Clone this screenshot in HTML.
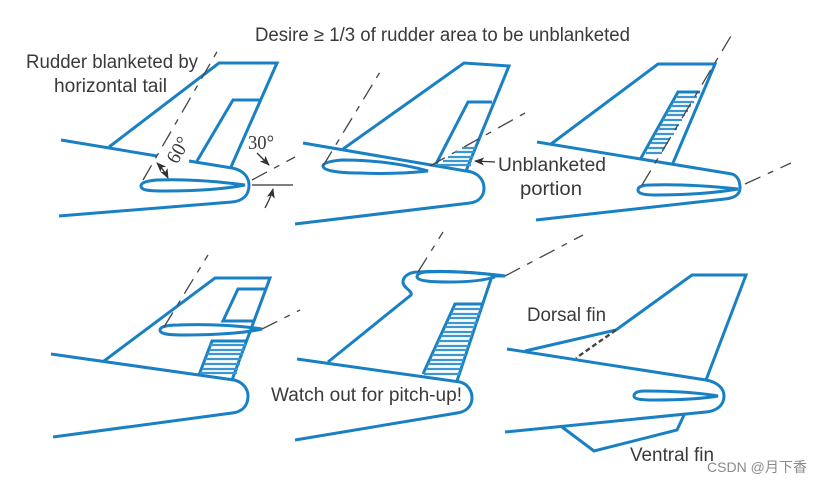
<!DOCTYPE html>
<html><head><meta charset="utf-8"><style>
html,body{margin:0;padding:0;background:#fff}
svg{display:block}
.b{fill:none;stroke:#1a80c4;stroke-width:3;stroke-linejoin:miter;stroke-linecap:butt}
.h{fill:none;stroke:#3c96d0;stroke-width:2.2}
.d{fill:none;stroke:#444;stroke-width:1.3;stroke-dasharray:17 8 6 8}
.k{fill:none;stroke:#333;stroke-width:1.3}
text{font-family:"Liberation Sans",sans-serif;font-size:19px;fill:#3a3a3a}
.s{font-family:"Liberation Serif",serif;font-size:20px}
</style></head><body>
<svg width="823" height="482" viewBox="0 0 823 482" xmlns="http://www.w3.org/2000/svg">
<defs><marker id="a" markerUnits="userSpaceOnUse" markerWidth="10" markerHeight="8" refX="9" refY="4" orient="auto-start-reverse"><path d="M0 0L10 4L0 8L2.5 4Z" fill="#333"/></marker></defs>
<rect width="823" height="482" fill="#fff"/>
<text x="255" y="41" textLength="375" lengthAdjust="spacingAndGlyphs">Desire ≥ 1/3 of rudder area to be unblanketed</text>
<text x="26" y="68" textLength="172" lengthAdjust="spacingAndGlyphs">Rudder blanketed by</text>
<text x="54" y="92" textLength="113" lengthAdjust="spacingAndGlyphs">horizontal tail</text>
<text x="498" y="171" textLength="108" lengthAdjust="spacingAndGlyphs">Unblanketed</text>
<text x="520" y="195" textLength="62" lengthAdjust="spacingAndGlyphs">portion</text>
<text x="271" y="401" textLength="191" lengthAdjust="spacingAndGlyphs">Watch out for pitch-up!</text>
<text x="527" y="321" textLength="79" lengthAdjust="spacingAndGlyphs">Dorsal fin</text>
<text x="630" y="461" textLength="84" lengthAdjust="spacingAndGlyphs">Ventral fin</text>
<text class="s" x="248" y="149" textLength="26" lengthAdjust="spacingAndGlyphs">30°</text>
<text class="s" transform="translate(177 165) rotate(-60)" textLength="27" lengthAdjust="spacingAndGlyphs" x="0" y="0">60°</text>
<text x="707" y="472" style="font-size:14px;fill:#8a8a8a" textLength="100" lengthAdjust="spacingAndGlyphs" font-family="Liberation Sans, Noto Sans CJK SC, sans-serif">CSDN @月下香</text>

<!-- Panel 1 -->
<path class="b" d="M61 140L157 156M189 161L232 168C243 170 249 177 249 185C249 195 243 201 232 202L59 216"/>
<path class="b" d="M109 147L219 63H277L231 167M197 161L233 100H260"/>
<path class="b" d="M245 185C215 181 185 179 157 180C145 181 141 183 141 186C141 190 147 191 165 191C195 191 225 189 245 185Z"/>
<path class="d" d="M143 180L218 50"/>
<path class="d" d="M252 180L295 157"/>
<path class="k" d="M252 185H293"/>
<path class="k" marker-end="url(#a)" d="M257 153L269 165"/>
<path class="k" marker-end="url(#a)" d="M265 208C268 202 271 197 273 189"/>
<path class="k" marker-start="url(#a)" marker-end="url(#a)" d="M157 163C162 168 165 172 168 178"/>

<!-- Panel 2 -->
<path class="b" d="M303 143L466 171C478 172 484 180 484 188C484 197 478 202 470 203L295 224"/>
<path class="b" d="M343 149L464 63L509 66L466 171M436 164L468 102H492"/>
<path class="b" d="M428 171C400 163 370 160 342 160C330 161 323 163 323 166C323 170 335 173 360 173C385 174 410 173 428 171Z"/>
<path class="d" d="M323 166L380 72"/>
<path class="d" d="M430 166L525 113"/>
<path class="h" d="M462 148H476M455 152H474M448 157H473M443 161H472M438 165H471"/>
<path class="k" marker-end="url(#a)" d="M495 162L475 161"/>

<!-- Panel 3 -->
<path class="b" d="M537 142L732 174C738 176 740 181 740 188C740 194 735 198 725 199L536 220"/>
<path class="b" d="M551 144L658 64H715L673 163M641 158L678 92H700"/>
<path class="h" d="M676 97H697M673 102H694M671 106H691M668 111H688M666 115H685M663 120H682M661 125H679M658 129H677M656 134H674M653 139H670M651 143H668M648 148H665M646 153H662"/>
<path class="b" d="M738 189C710 186 680 184 650 185C642 185 638 187 638 190C638 193 642 195 655 195C685 195 715 193 738 189Z"/>
<path class="d" d="M642 185L731 36"/>
<path class="d" d="M745 184L791 163"/>

<!-- Panel 4 -->
<path class="b" d="M51 354L234 380C243 382 248 389 248 396C248 406 242 412 232 413L53 437"/>
<path class="b" d="M104 361L215 278H270L232 380M255 321H223L238 289H265"/>
<path class="b" d="M199 375L212 341H247"/>
<path class="h" d="M210 345H246M209 350H244M207 354H243M205 359H241M204 364H240M202 369H238M200 373H237"/>
<path class="b" d="M262 329C235 325 205 324 178 325C166 325 160 327 160 330C160 334 168 335 185 335C215 335 245 333 262 329Z"/>
<path class="d" d="M164 327L208 255"/>
<path class="d" d="M262 329L300 310"/>

<!-- Panel 5 -->
<path class="b" d="M297 359L460 382C468 384 472 391 472 398C472 406 466 412 457 413L295 440"/>
<path class="b" d="M328 362L411 295C413 291 403 288 403 282C403 276 410 272 418 272C450 270 480 273 505 276L492 276L457 381"/>
<path class="b" d="M505 276C475 272 445 271 425 272C418 273 417 275 417 277C418 281 430 282 450 282C470 282 485 280 495 277"/>
<path class="b" d="M423 374L455 304H483"/>
<path class="h" d="M453 309H481M451 314H480M449 318H478M447 323H477M445 327H475M443 332H473M441 336H472M438 341H470M436 346H469M434 350H467M432 355H466M430 360H464M428 364H463M426 369H461M424 374H460"/>
<path class="d" d="M418 272L443 232"/>
<path class="d" d="M505 276L583 235"/>

<!-- Panel 6 -->
<path class="b" d="M507 349L706 380C717 382 724 388 724 396C724 405 717 411 706 412L505 432"/>
<path class="b" d="M525 351L616 330L692 275H746L706 380"/>
<path class="b" d="M562 427L594 451L677 430L684 415"/>
<path class="b" d="M718 396C695 392 670 391 645 391C637 391 634 393 634 396C634 399 640 400 655 400C680 400 700 399 718 396Z"/>
<path d="M616 330L576 358" fill="none" stroke="#444" stroke-width="2.4" stroke-dasharray="5 3"/>
</svg>
</body></html>
